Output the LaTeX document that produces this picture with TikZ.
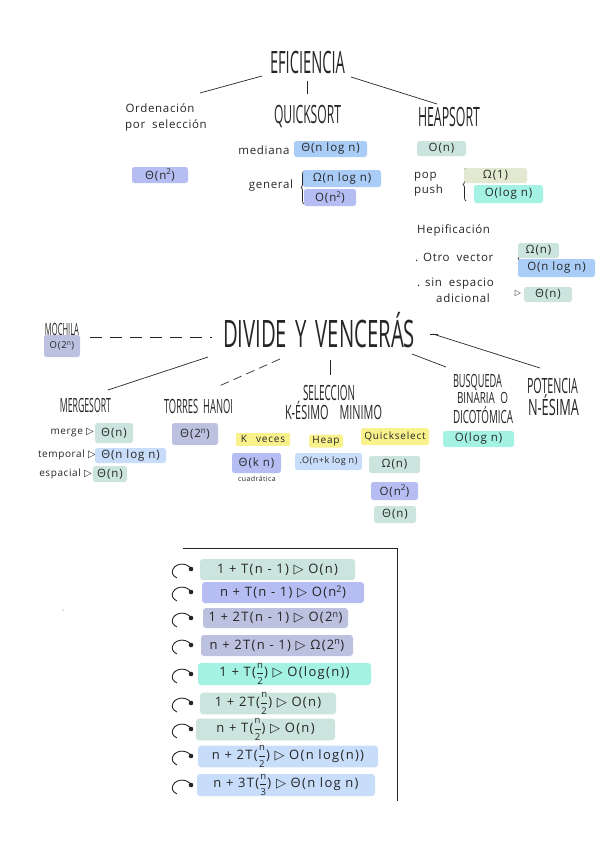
\documentclass[tikz,border=0pt]{standalone}
\usepackage{fontspec}
\usepackage{amsmath}
\usepackage{graphicx}
\setmainfont[LetterSpace=6]{Open Sans}
\newfontfamily\tfont{Open Sans}
\newfontfamily\boxfam[LetterSpace=8]{Open Sans}
\newfontfamily\rowfam[LetterSpace=10]{Open Sans}
\newfontfamily\symfont{DejaVu Sans}
\usetikzlibrary{decorations.pathreplacing}
\definecolor{mint}{HTML}{CBE5DE}
\definecolor{sky}{HTML}{A9CDF7}
\definecolor{peri}{HTML}{B5BDF2}
\definecolor{lav}{HTML}{BCC1E0}
\definecolor{aqua}{HTML}{A3F2E3}
\definecolor{khaki}{HTML}{E3E9D0}
\definecolor{pale}{HTML}{C8DDF9}
\definecolor{yel}{HTML}{F8F18C}
\definecolor{ink}{HTML}{262626}
\newcommand\ttl[3]{\resizebox{#1}{#2}{\tfont\vphantom{E}\smash{#3}}}
\newcommand\trisym{{\symfont ▷}}
\newcommand\hfr[2]{\(\dfrac{\text{\rowfam\fontsize{9.5}{9.5}\selectfont #1}}{\text{\rowfam\fontsize{9.5}{9.5}\selectfont #2}}\)}
\newcommand\hand{\fontsize{11.5}{13}\selectfont}
\newcommand\boxfont{\boxfam\fontsize{11.5}{12}\selectfont}
\newcommand\rowfont{\rowfam\fontsize{13}{14}\selectfont}
\newcommand\tinyhand{\fontsize{7}{8}\selectfont}
\begin{document}
\begin{tikzpicture}[x=1pt,y=-1pt,
  every node/.style={inner sep=0pt, text=ink},
  lbl/.style={font=\hand},
  bx/.style={fill=#1, rounded corners=2.5pt, inner sep=0pt, font=\boxfont},
  rowbx/.style={fill=#1, rounded corners=3pt, inner sep=0pt, font=\rowfont},
  ln/.style={draw=ink, line width=0.7pt},
  brc/.style={draw=ink, line width=0.7pt, decorate, decoration={brace, amplitude=3pt}}]
\fill[white] (0,0) rectangle (600,848);
\useasboundingbox (0,0) rectangle (600,848);

% ---------- EFICIENCIA ----------
\node (ef) at (307.5,63) {\ttl{75pt}{22pt}{EFICIENCIA}};
\coordinate (efl1) at (262,76);  \coordinate (efl2) at (200,93);
\coordinate (efv1) at (307,81);  \coordinate (efv2) at (307,94);
\coordinate (efr1) at (351,77);  \coordinate (efr2) at (437,104);
\draw[ln] (efl1) -- (efl2);
\draw[ln] (efv1) -- (efv2);
\draw[ln] (efr1) -- (efr2);

% Ordenacion por seleccion
\node[lbl] (ord1) at (160,108) {Ordenación};
\node[lbl] (ord2) at (166,125) {por\; selección};
\node[bx=peri, minimum width=56pt, minimum height=16pt] (selb) at (160,175) {Θ(n\textsuperscript{2})};

% Quicksort
\node (qs) at (307.5,114.5) {\ttl{67pt}{18pt}{QUICKSORT}};
\node[lbl] (med) at (264,150) {mediana};
\node[bx=sky, minimum width=73pt, minimum height=16pt] (qm) at (330.5,149) {Θ(n log n)};
\node[lbl] (gen) at (271,186) {general};
\draw[brc] (304,204) -- (304,171);
\node[bx=sky, minimum width=78pt, minimum height=17pt] (qg1) at (342,178.5) {Ω(n log n)};
\node[bx=peri, minimum width=52pt, minimum height=17pt] (qg2) at (330,197.5) {O(n\textsuperscript{2})};

% Heapsort
\node (hs) at (449,117.5) {\ttl{62pt}{19pt}{HEAPSORT}};
\node[bx=mint, minimum width=49pt, minimum height=15pt] (hsb) at (441.5,148.5) {O(n)};
\node[lbl, anchor=west] (pop) at (414,177) {pop};
\node[lbl, anchor=west] (push) at (414,191) {push};
\draw[brc] (466,201) -- (466,168);
\node[bx=khaki, minimum width=63pt, minimum height=15pt] (hp1) at (495.5,175.5) {Ω(1)};
\node[bx=aqua, minimum width=69pt, minimum height=18pt] (hp2) at (508.5,194) {O(log n)};
\node[lbl, anchor=west] (hepi) at (417,230) {Hepificación};
\node[lbl, anchor=west] (otro) at (415,257) {. Otro\; vector};
\draw[brc] (521,274) -- (521,243);
\node[bx=mint, minimum width=41pt, minimum height=15pt] (ho1) at (538.5,250.5) {Ω(n)};
\node[bx=sky, minimum width=77pt, minimum height=18pt] (ho2) at (556.5,268) {O(n log n)};
\node[lbl, anchor=west] (sin1) at (417,284) {. sin\; espacio};
\node[lbl, anchor=west] (sin2) at (436,298) {adicional};
\node[font=\fontsize{8}{9}\selectfont] (tri1) at (518,293) {\trisym};
\node[bx=mint, minimum width=48pt, minimum height=15pt] (ha) at (548,294.5) {Θ(n)};

% ---------- DIVIDE Y VENCERAS ----------
\node (dyv) at (319,333.5) {\ttl{192pt}{27pt}{DIVIDE\, Y\, VENCERÁS}};
\node (moch) at (62,329) {\ttl{34pt}{12pt}{MOCHILA}};
\node[bx=lav, minimum width=36pt, minimum height=22pt, font=\boxfam\fontsize{9.5}{11}\selectfont] (mochb) at (62,346) {O(2\textsuperscript{n})};
\coordinate (md1) at (90,337); \coordinate (md2) at (212,337);
\draw[ln, dash pattern=on 12pt off 8pt] (md1) -- (md2);
\coordinate (rd1) at (430,334); \coordinate (rd2) at (438,334);
\draw[ln] (rd1) -- (rd2);

\coordinate (dm1) at (208,357); \coordinate (dm2) at (108,390);
\draw[ln] (dm1) -- (dm2);
\coordinate (dh1) at (280,359); \coordinate (dh2) at (217,387);
\draw[ln, dash pattern=on 9pt off 5pt] (dh1) -- (dh2);
\coordinate (ds1) at (330,360); \coordinate (ds2) at (330,375);
\draw[ln] (ds1) -- (ds2);
\coordinate (db1) at (412,354); \coordinate (db2) at (446,367);
\draw[ln] (db1) -- (db2);
\coordinate (dp1) at (433,334); \coordinate (dp2) at (540,368);
\draw[ln] (dp1) -- (dp2);

% Mergesort
\node (ms) at (85.5,405) {\ttl{51pt}{14pt}{MERGESORT}};
\node[lbl, anchor=east, font=\fontsize{10}{12}\selectfont] (mg) at (94,432) {merge \trisym};
\node[bx=mint, minimum width=38pt, minimum height=20pt] (m1) at (114,433) {Θ(n)};
\node[lbl, anchor=east, font=\fontsize{10}{12}\selectfont] (tp) at (96,455) {temporal \trisym};
\node[bx=pale, minimum width=71pt, minimum height=15pt] (m2) at (130.5,455.5) {Θ(n log n)};
\node[lbl, anchor=east, font=\fontsize{10}{12}\selectfont] (es) at (92,474) {espacial \trisym};
\node[bx=mint, minimum width=34pt, minimum height=16pt] (m3) at (110,474) {Θ(n)};

% Torres Hanoi
\node (th) at (198.5,406) {\ttl{69pt}{14pt}{TORRES\; HANOI}};
\node[bx=lav, minimum width=46pt, minimum height=22pt] (thb) at (195,434) {Θ(2\textsuperscript{n})};

% Seleccion k-esimo minimo
\node (sl1) at (329,392.5) {\ttl{52pt}{15pt}{SELECCION}};
\node (sl2) at (333.5,412) {\ttl{97pt}{14pt}{K-ÉSIMO\quad MINIMO}};
\node[bx=yel, rounded corners=0pt, minimum width=54pt, minimum height=13pt, font=\boxfam\fontsize{10}{11}\selectfont] (ky) at (263,439) {K\;\; veces};
\node[bx=peri, minimum width=49pt, minimum height=20pt] (kb) at (256.5,463) {Θ(k n)};
\node[font=\tinyhand] (cua) at (257,478.5) {cuadrática};
\node[bx=yel, minimum width=34pt, minimum height=13pt, font=\boxfam\fontsize{10}{11}\selectfont] (hy) at (326,441) {Heap};
\node[bx=pale, minimum width=67pt, minimum height=17pt, font=\fontsize{9}{10}\selectfont] (hb) at (328.5,461.5) {.O(n+k log n)};
\node[bx=yel, minimum width=68pt, minimum height=17pt, font=\boxfam\fontsize{10}{11}\selectfont] (qy) at (395,436.5) {Quickselect};
\node[bx=mint, minimum width=51pt, minimum height=17pt] (q1) at (394.5,464.5) {Ω(n)};
\node[bx=peri, minimum width=47pt, minimum height=18pt] (q2) at (394.5,491) {O(n\textsuperscript{2})};
\node[bx=mint, minimum width=42pt, minimum height=17pt] (q3) at (395,514.5) {Θ(n)};

% Busqueda binaria
\node (bu1) at (477.5,381) {\ttl{49pt}{13pt}{BUSQUEDA}};
\node (bu2) at (482.5,398) {\ttl{51pt}{11pt}{BINARIA\; O}};
\node (bu3) at (483,416.5) {\ttl{60pt}{13pt}{DICOTÓMICA}};
\node[bx=aqua, minimum width=71pt, minimum height=16pt] (bb) at (478.5,439) {O(log n)};

% Potencia
\node (po1) at (552.5,385.5) {\ttl{51pt}{15pt}{POTENCIA}};
\node (po2) at (553.5,407) {\ttl{51pt}{16pt}{N-ÉSIMA}};

% ---------- Recurrences panel ----------
\coordinate (pa) at (183,548); \coordinate (pb) at (397,548); \coordinate (pc) at (397,801);
\draw[ln] (pa) -- (pb) -- (pc);

\node[rowbx=mint, minimum width=155pt, minimum height=21pt] (r1) at (277.5,569.5) {1 + T(n - 1) \trisym\ O(n)};
\node[rowbx=peri, minimum width=162pt, minimum height=21pt] (r2) at (283,592.5) {n + T(n - 1) \trisym\ O(n\textsuperscript{2})};
\node[rowbx=lav, minimum width=145pt, minimum height=20pt] (r3) at (275.5,618) {1 + 2T(n - 1) \trisym\ O(2\textsuperscript{n})};
\node[rowbx=lav, minimum width=152pt, minimum height=21pt] (r4) at (277,645.5) {n + 2T(n - 1) \trisym\ Ω(2\textsuperscript{n})};
\node[rowbx=aqua, minimum width=173pt, minimum height=22pt] (r5) at (284.5,674) {1 + T(\hfr{n}{2}) \trisym\ O(log(n))};
\node[rowbx=mint, minimum width=136pt, minimum height=21pt] (r6) at (268,703.5) {1 + 2T(\hfr{n}{2}) \trisym\ O(n)};
\node[rowbx=mint, minimum width=139pt, minimum height=21pt] (r7) at (265.5,729.5) {n + T(\hfr{n}{2}) \trisym\ O(n)};
\node[rowbx=pale, minimum width=180pt, minimum height=21pt] (r8) at (288,756.5) {n + 2T(\hfr{n}{2}) \trisym\ O(n log(n))};
\node[rowbx=pale, minimum width=178pt, minimum height=22pt] (r9) at (286,785) {n + 3T(\hfr{n}{3}) \trisym\ Θ(n log n)};

\foreach \yy in {569,592,618,645,674,703,729,756,785}{
  \begin{scope}[shift={(191,\yy)}]
    \draw[ink, line width=0.9pt] (0,0) .. controls (-3,-6) and (-14,-7) .. (-18,0) .. controls (-20,4) and (-18,7) .. (-14,9);
    \fill[ink] (0,0) circle (2.3pt);
  \end{scope}
}

\fill[gray] (63,610) circle (0.6pt);
\end{tikzpicture}
\end{document}
